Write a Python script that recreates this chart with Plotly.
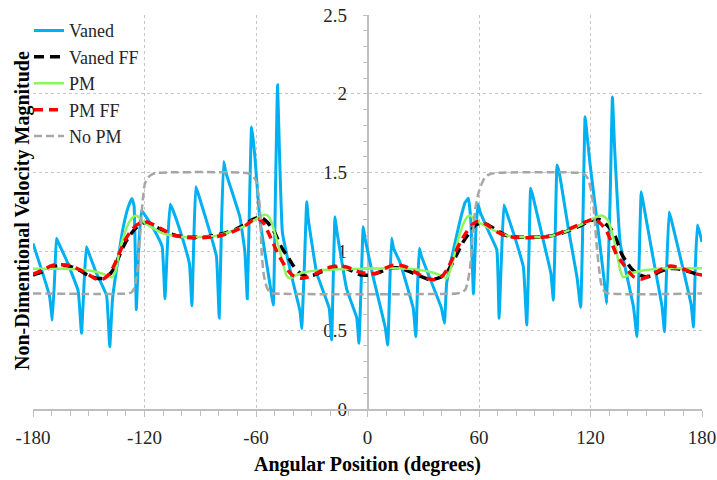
import plotly.graph_objects as go

# Angular positions (degrees) and non-dimensional velocity magnitudes
vaned_x = [-180, -175, -171, -169.6, -168.3, -167.4, -166.5, -162, -155.7, -153.9, -152.5, -151.3, -150.3,
           -145.8, -140.4, -138.7, -137.2, -134.5, -131.5, -128.8, -126.8, -125.6, -124.4, -123, -121.6,
           -120.3, -115, -110.5, -109, -107.6, -106.2, -105, -100, -95.8, -94.5, -93.4, -92.4, -91.2, -86,
           -81.3, -79.8, -78.5, -77.4, -76.2, -68.7, -66, -64.7, -63.5, -62.4, -61.4, -60.6, -57.9, -52.6,
           -50.7, -49.5, -48.4, -47.3, -45.8, -41, -36.3, -35.4, -34, -32.7, -31.8, -27.3, -20.6, -19.3,
           -18.4, -17.5, -16.5, -11.2, -5.8, -4.6, -3.4, -2.3, -1.3, 3, 9.5, 10.9, 12, 13.0, 14, 17.5,
           24.6, 26, 27, 27.9, 29, 31.9, 39.8, 41.4, 42.6, 45.5, 49.5, 52.5, 54.3, 55.6, 57, 58.4, 59.5,
           60.6, 65, 69.6, 70.8, 72.2, 73.4, 74.5, 79, 83.9, 85.7, 86.9, 87.8, 89, 94, 98.7, 100, 101,
           102, 103.2, 108, 112.7, 114.7, 116, 117.1, 118.3, 119.8, 125.2, 127.5, 128.8, 130.5, 131.8,
           133, 136, 143.1, 145, 146.2, 147.3, 148.5, 153.9, 158.5, 159.8, 161, 162.3, 163.5, 170,
           174.2, 175.4, 176.4, 177.5, 178.5, 180]
vaned_y = [1.05, 0.87, 0.71, 0.565, 0.85, 1.083, 1.06, 0.945, 0.75, 0.48, 0.8, 1.03, 1.0,
           0.86, 0.72, 0.395, 0.70, 0.93, 1.15, 1.28, 1.335, 1.29, 0.63, 1.05, 1.26,
           1.24, 1.14, 1.03, 0.70, 1.05, 1.30, 1.27, 1.1, 0.92, 0.655, 1.1, 1.41, 1.37, 1.17,
           0.97, 0.578, 1.2, 1.57, 1.5, 1.22, 1.0, 0.70, 1.3, 1.79, 1.70, 1.6, 1.2, 0.80,
           0.66, 1.4, 2.056, 1.6, 1.12, 0.85, 0.62, 0.51, 0.9, 1.315, 1.2, 0.86, 0.64, 0.438,
           0.85, 1.22, 1.13, 0.76, 0.58, 0.417, 0.8, 1.157, 1.08, 0.84, 0.52, 0.406, 0.8, 1.083, 1.02, 0.93,
           0.64, 0.459, 0.8, 1.02, 0.97, 0.88, 0.64, 0.544, 0.80, 0.97, 1.18, 1.31, 1.337, 1.2, 0.73, 1.15, 1.30,
           1.25, 1.13, 1.01, 0.575, 1.0, 1.294, 1.26, 1.1, 0.90, 0.533, 1.0, 1.40, 1.35, 1.1, 0.86, 0.69, 1.1,
           1.548, 1.5, 1.15, 0.84, 0.645, 1.25, 1.855, 1.72, 1.55, 1.03, 0.80, 0.67, 1.3, 1.98,
           1.65, 1.05, 0.65, 0.459, 0.95, 1.379, 1.3, 0.945, 0.65, 0.49, 0.9, 1.25, 1.2, 0.88,
           0.66, 0.52, 0.9, 1.167, 1.13, 1.06]

vaned_ff_x = [-180, -175, -170, -165, -160, -155, -150, -146, -143, -140, -137, -134, -131, -128, -124.5,
              -121, -117, -113, -108, -103, -97, -90, -83, -77, -71, -66, -62, -59, -56.5, -53.5, -50,
              -46.5, -42.6, -40, -37.2, -33.7, -29, -24, -19, -14, -9, -4, 1.3, 6, 12, 17, 23, 28, 33.6,
              38, 41.5, 44.5, 48, 51.5, 55, 58.5, 62, 66, 70, 75, 82, 90, 97, 103, 109, 114, 118, 122.5,
              125.5, 128.5, 132.4, 136.9, 139.6, 142.5, 145.8, 149.4, 153, 157, 162, 167, 172, 176, 180]
vaned_ff_y = [0.85, 0.87, 0.9, 0.91, 0.905, 0.88, 0.845, 0.83, 0.828, 0.84, 0.88, 0.96, 1.04, 1.1, 1.15,
              1.18, 1.175, 1.15, 1.12, 1.1, 1.09, 1.09, 1.1, 1.115, 1.14, 1.17, 1.2, 1.215, 1.21, 1.18, 1.12,
              1.03, 0.96, 0.91, 0.87, 0.845, 0.85, 0.875, 0.895, 0.9, 0.88, 0.852, 0.85, 0.865, 0.893, 0.895,
              0.87, 0.845, 0.82, 0.83, 0.85, 0.9, 0.98, 1.06, 1.12, 1.17, 1.18, 1.16, 1.13, 1.1, 1.09, 1.09,
              1.095, 1.11, 1.135, 1.16, 1.185, 1.205, 1.2, 1.17, 1.12, 0.98, 0.93, 0.885, 0.855, 0.84, 0.845,
              0.87, 0.89, 0.89, 0.875, 0.86, 0.85]

pm_x = [-180, -165, -155, -148, -143, -139.5, -137.5, -135.5, -133.3, -130.5, -128, -126, -124.3, -122.5,
        -119.8, -115, -110, -104, -97, -88, -81, -74, -67, -62, -58.5, -55.5, -53.5, -51.5, -49.5, -47.1,
        -45, -43.5, -41.7, -39, -35, -28, -15, 0, 12, 24, 30, 35, 39, 41, 42.6, 44.2, 46.2, 48, 49.8,
        51.6, 53.4, 55.2, 57.2, 60.6, 65, 69.6, 74, 78.5, 87, 96.5, 103, 109, 115, 119.8, 123.5, 126.1,
        128, 129.7, 131.5, 133.3, 134.8, 136, 137.7, 139.5, 141.5, 144.9, 150, 159.2, 170, 180]
pm_y = [0.89, 0.89, 0.885, 0.875, 0.86, 0.845, 0.835, 0.88, 1.01, 1.12, 1.19, 1.22, 1.228, 1.21,
        1.18, 1.145, 1.115, 1.097, 1.09, 1.093, 1.10, 1.125, 1.155, 1.19, 1.215, 1.232, 1.225, 1.18, 1.1, 1.0,
        0.9, 0.845, 0.83, 0.845, 0.865, 0.878, 0.886, 0.89, 0.893, 0.888, 0.878, 0.866, 0.85, 0.838, 0.83,
        0.87, 0.95, 1.04, 1.115, 1.175, 1.215, 1.228, 1.21, 1.18, 1.15, 1.125, 1.105, 1.093, 1.09, 1.093,
        1.11, 1.136, 1.17, 1.2, 1.22, 1.228, 1.215, 1.19, 1.12, 1.04, 0.95, 0.88, 0.836, 0.845, 0.86,
        0.871, 0.882, 0.893, 0.893, 0.893]

pm_ff_x = [-180, -175, -170, -165, -160, -155, -151, -147, -144.5, -141.5, -138.7, -136, -133.3, -130.5,
           -127.9, -124.5, -120.7, -117, -113.5, -109, -104.6, -99, -93.5, -87, -81, -76, -70.4, -65, -61.5,
           -58.5, -56, -53, -50.7, -48, -45.3, -42.5, -39.9, -36.3, -32.5, -29.2, -24.5, -20.2, -15.5, -11,
           -7, -3, 1, 5, 9, 13.9, 18, 21.1, 24.5, 28.3, 32, 35.4, 38.5, 40.8, 43.5, 46.2, 50, 53.4, 56,
           58.8, 62, 66, 69.6, 74, 78.5, 87, 96.5, 102, 107.3, 113, 118, 121, 123.5, 126, 128.8, 131.5,
           134, 136, 139.5, 143.1, 147.6, 151.5, 155.7, 159.5, 162.9, 167, 171.9, 176, 180]
pm_ff_y = [0.855, 0.88, 0.91, 0.915, 0.91, 0.885, 0.86, 0.83, 0.82, 0.83, 0.86, 0.92, 0.995, 1.07,
           1.12, 1.165, 1.19, 1.18, 1.16, 1.13, 1.104, 1.09, 1.085, 1.088, 1.095, 1.11, 1.136, 1.17, 1.2,
           1.205, 1.18, 1.11, 1.05, 0.98, 0.925, 0.875, 0.845, 0.83, 0.835, 0.85, 0.88, 0.9, 0.908, 0.9,
           0.88, 0.865, 0.858, 0.862, 0.89, 0.913, 0.91, 0.9, 0.875, 0.85, 0.83, 0.82, 0.83, 0.85, 0.9, 0.966,
           1.06, 1.125, 1.165, 1.19, 1.185, 1.155, 1.125, 1.1, 1.09, 1.087, 1.093, 1.11, 1.136, 1.165, 1.19,
           1.202, 1.195, 1.17, 1.125, 1.05, 0.98, 0.945, 0.89, 0.84, 0.825, 0.845, 0.871, 0.895, 0.907, 0.9,
           0.88, 0.86, 0.85]

no_pm_x = [-180, -129, -127, -125.2, -124.2, -123.4, -122.5, -121.6, -120.6, -119.8, -118, -116.2, -113.5,
           -65, -63, -61.2, -59.7, -58.8, -57.9, -57, -55.8, -54.3, -52.5, -50.5, 48, 50.5, 52.5, 54, 55.2,
           56.5, 57.9, 59.7, 61.5, 63, 65, 68.6, 115.3, 117.2, 118.9, 120.4, 121.6, 122.5, 123.4, 124.5,
           125.7, 127.2, 128.8, 180]
no_pm_y = [0.733, 0.733, 0.74, 0.776, 0.84, 0.93, 1.08, 1.24, 1.36, 1.43, 1.47, 1.487, 1.498,
           1.498, 1.49, 1.47, 1.44, 1.37, 1.28, 1.0, 0.85, 0.776, 0.738, 0.733, 0.733, 0.74, 0.755, 0.81, 0.9,
           1.08, 1.263, 1.37, 1.43, 1.465, 1.485, 1.497, 1.497, 1.485, 1.453, 1.38, 1.284, 1.16, 1.03, 0.9,
           0.797, 0.75, 0.735, 0.733]

x_ticks = [-180, -120, -60, 0, 60, 120, 180]
x_tick_text = ["-180", "-120", "-60", "0", "60", "120", "180"]
y_ticks = [0, 0.5, 1, 1.5, 2, 2.5]
y_tick_text = ["0", "0.5", "1", "1.5", "2", "2.5"]

SERIF = "Liberation Serif, Times New Roman, serif"
GRID = "#C6C6C6"
AXIS = "#BFBFBF"
TEXT = "#262626"

fig = go.Figure()
fig.add_trace(go.Scatter(x=vaned_x, y=vaned_y, name="Vaned", mode="lines", legendgroup="a",
                         line=dict(color="#00B0F0", width=3, shape="spline", smoothing=0.3)))
fig.add_trace(go.Scatter(x=vaned_ff_x, y=vaned_ff_y, name="Vaned FF", mode="lines", legendgroup="b",
                         line=dict(color="#000000", width=3.5, dash="10px,6px", shape="spline", smoothing=0.6)))
fig.add_trace(go.Scatter(x=pm_x, y=pm_y, name="PM", mode="lines", legendgroup="c",
                         line=dict(color="#8EF55E", width=2.5, shape="spline", smoothing=0.6)))
fig.add_trace(go.Scatter(x=pm_ff_x, y=pm_ff_y, name="PM FF", mode="lines", legendgroup="d",
                         line=dict(color="#FF0000", width=3.5, dash="9px,6px", shape="spline", smoothing=0.6)))
fig.add_trace(go.Scatter(x=no_pm_x, y=no_pm_y, name="No PM", mode="lines", legendgroup="e",
                         line=dict(color="#A6A6A6", width=2.5, dash="8px,4px", shape="spline", smoothing=0.6)))

fig.update_layout(
    width=717, height=480,
    margin=dict(l=33, r=15, t=15, b=71, autoexpand=False),
    paper_bgcolor="white", plot_bgcolor="white",
    font=dict(family=SERIF, color=TEXT),
    showlegend=True,
    legend=dict(x=-0.006, y=1.007, xanchor="left", yanchor="top", bgcolor="rgba(0,0,0,0)",
                font=dict(family=SERIF, size=18, color=TEXT), itemwidth=30,
                tracegroupgap=2, traceorder="normal"),
    # white panel behind the legend, above the gridlines but under the curves
    shapes=[dict(type="rect", xref="paper", yref="paper", x0=0.0015, x1=0.175, y0=0.665, y1=0.995,
                 fillcolor="white", line=dict(width=0), layer="between")],
    xaxis=dict(range=[-180, 180], tickvals=x_ticks, ticktext=x_tick_text, showgrid=True, gridcolor=GRID,
               griddash="dot", gridwidth=1, zeroline=False, showline=True, linecolor=AXIS, linewidth=1.5,
               ticks="outside", ticklen=6, tickcolor=AXIS, ticklabelstandoff=4,
               tickfont=dict(family=SERIF, size=19, color=TEXT),
               minor=dict(dtick=10, ticks="outside", ticklen=5, tickcolor=AXIS, showgrid=False)),
    yaxis=dict(range=[0, 2.5], anchor="free", position=0.5, side="left", layer="below traces",
               tickvals=y_ticks, ticktext=y_tick_text, showgrid=True, gridcolor=GRID, griddash="dot",
               gridwidth=1, zeroline=False, showline=True, linecolor=AXIS, linewidth=1.5,
               ticks="outside", ticklen=4, tickcolor=AXIS, ticklabelstandoff=12,
               tickfont=dict(family=SERIF, size=19, color=TEXT),
               minor=dict(dtick=0.1, ticks="outside", ticklen=4, tickcolor=AXIS, showgrid=False)),
    annotations=[
        dict(text="Angular Position (degrees)", xref="paper", yref="paper", x=0.5, y=-0.142,
             xanchor="center", yanchor="middle", showarrow=False,
             font=dict(family=SERIF, size=20, color="#000000", weight="bold")),
        dict(text="Non-Dimentional Velocity Magnitude", xref="paper", yref="paper", x=-0.0164, y=0.5025,
             xanchor="center", yanchor="middle", textangle=-90, showarrow=False,
             font=dict(family=SERIF, size=20, color="#000000", weight="bold")),
    ],
)

fig.write_html("out.html")
